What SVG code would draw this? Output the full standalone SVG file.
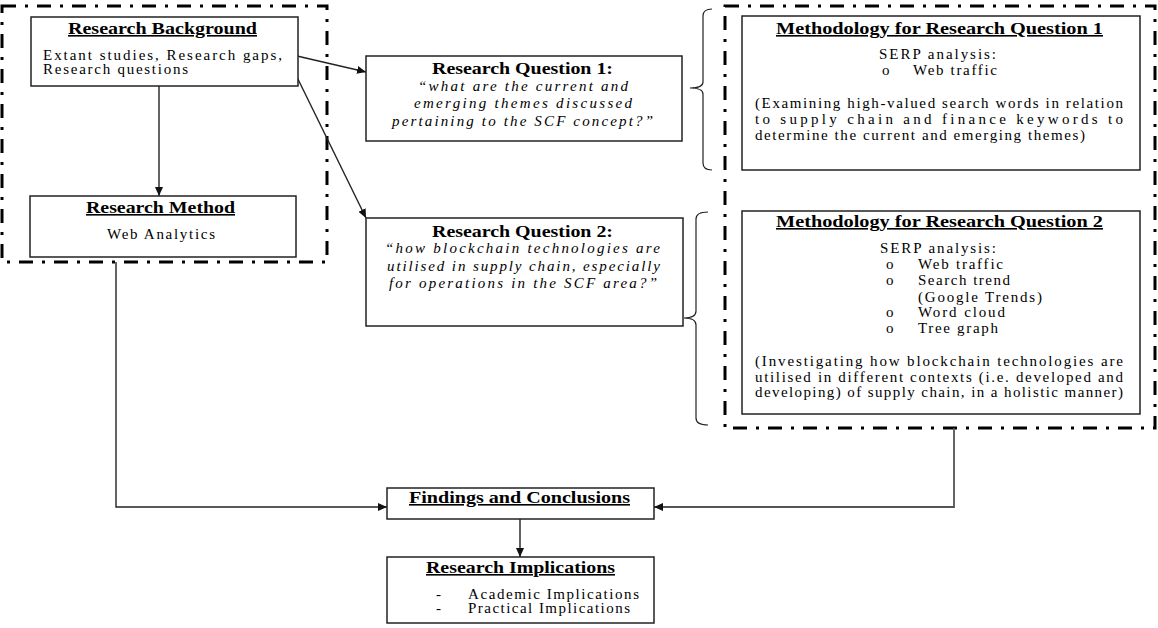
<svg xmlns="http://www.w3.org/2000/svg" width="1158" height="628" viewBox="0 0 1158 628">
<style>
.box{fill:#fff;stroke:#222;stroke-width:1.5}
.frame{fill:none;stroke:#000;stroke-width:3;stroke-dasharray:14 9 3 9}
.brace{fill:none;stroke:#222;stroke-width:1.2}
.conn{fill:none;stroke:#222;stroke-width:1.4}
.t{font-family:"Liberation Serif","Times New Roman",serif;font-size:15px;fill:#000}
.b{font-weight:bold;font-size:16px;text-decoration:underline}
.bn{font-weight:bold;font-size:16px}
.i{font-style:italic}
</style>
<defs>
<marker id="ah" markerUnits="userSpaceOnUse" markerWidth="9" markerHeight="8" refX="9" refY="4" orient="auto">
<path d="M0,0 L9,4 L0,8 z" fill="#111"/>
</marker>
</defs>
<rect width="1158" height="628" fill="#fff"/>

<g id="frames">
<rect class="frame" x="2" y="6" width="325" height="256"/>
<rect class="frame" x="725" y="6" width="430" height="422"/>
</g>

<g id="braces">
<path class="brace" d="M712,9 Q703,9 703,16 L703,82 Q703,88 690,88 Q703,88 703,94 L703,163 Q703,170 712,170"/>
<path class="brace" d="M708,212 Q696,212 696,219 L696,311 Q696,318 684,318 Q696,318 696,325 L696,418 Q696,425 708,425"/>
</g>

<g id="connectors">
<line class="conn" x1="159" y1="86" x2="159" y2="196" marker-end="url(#ah)"/>
<line class="conn" x1="297" y1="56" x2="366" y2="72" marker-end="url(#ah)"/>
<line class="conn" x1="295" y1="73" x2="366" y2="218" marker-end="url(#ah)"/>
<polyline class="conn" points="116,262 116,507 387,507" marker-end="url(#ah)"/>
<polyline class="conn" points="954,428 954,507 654,507" marker-end="url(#ah)" style="stroke:#555;stroke-width:1.8"/>
<line class="conn" x1="520" y1="519" x2="520" y2="557" marker-end="url(#ah)"/>
</g>

<g id="research-background">
<rect class="box" x="31" y="17" width="267" height="69"/>
<text class="t b" x="68" y="34" textLength="189" lengthAdjust="spacingAndGlyphs">Research Background</text>
<text class="t" x="43" y="60" textLength="239" lengthAdjust="spacing">Extant studies, Research gaps,</text>
<text class="t" x="43" y="74" textLength="145" lengthAdjust="spacing">Research questions</text>
</g>

<g id="research-method">
<rect class="box" x="30" y="196" width="266" height="61"/>
<text class="t b" x="86" y="213" textLength="149" lengthAdjust="spacingAndGlyphs">Research Method</text>
<text class="t" x="107" y="239" textLength="108" lengthAdjust="spacing">Web Analytics</text>
</g>

<g id="rq1">
<rect class="box" x="366" y="56" width="316" height="85"/>
<text class="t bn" x="432" y="74" textLength="181" lengthAdjust="spacingAndGlyphs">Research Question 1:</text>
<text class="t i" x="418" y="91" textLength="210" lengthAdjust="spacing">“what are the current and</text>
<text class="t i" x="414" y="108" textLength="218" lengthAdjust="spacing">emerging themes discussed</text>
<text class="t i" x="392" y="126" textLength="261" lengthAdjust="spacing">pertaining to the SCF concept?”</text>
</g>

<g id="rq2">
<rect class="box" x="366" y="218" width="317" height="108"/>
<text class="t bn" x="432" y="237" textLength="181" lengthAdjust="spacingAndGlyphs">Research Question 2:</text>
<text class="t i" x="385" y="253" textLength="275" lengthAdjust="spacing">“how blockchain technologies are</text>
<text class="t i" x="387" y="271" textLength="273" lengthAdjust="spacing">utilised in supply chain, especially</text>
<text class="t i" x="389" y="288" textLength="268" lengthAdjust="spacing">for operations in the SCF area?”</text>
</g>

<g id="mrq1">
<rect class="box" x="742" y="16" width="398" height="154"/>
<text class="t b" x="776" y="34" textLength="327" lengthAdjust="spacingAndGlyphs">Methodology for Research Question 1</text>
<text class="t" x="879" y="59" textLength="117" lengthAdjust="spacing">SERP analysis:</text>
<text class="t" x="882" y="75">o</text>
<text class="t" x="913" y="75" textLength="84" lengthAdjust="spacing">Web traffic</text>
<text class="t" x="755" y="108" textLength="368" lengthAdjust="spacing">(Examining high-valued search words in relation</text>
<text class="t" x="755" y="124" textLength="368" lengthAdjust="spacing">to supply chain and finance keywords to</text>
<text class="t" x="755" y="140" textLength="330" lengthAdjust="spacing">determine the current and emerging themes)</text>
</g>

<g id="mrq2">
<rect class="box" x="742" y="211" width="398" height="203"/>
<text class="t b" x="776" y="227" textLength="327" lengthAdjust="spacingAndGlyphs">Methodology for Research Question 2</text>
<text class="t" x="880" y="253" textLength="116" lengthAdjust="spacing">SERP analysis:</text>
<text class="t" x="886" y="269">o</text>
<text class="t" x="918" y="269" textLength="85" lengthAdjust="spacing">Web traffic</text>
<text class="t" x="886" y="285">o</text>
<text class="t" x="918" y="285" textLength="92" lengthAdjust="spacing">Search trend</text>
<text class="t" x="918" y="302" textLength="124" lengthAdjust="spacing">(Google Trends)</text>
<text class="t" x="886" y="317">o</text>
<text class="t" x="918" y="317" textLength="87" lengthAdjust="spacing">Word cloud</text>
<text class="t" x="886" y="333">o</text>
<text class="t" x="918" y="333" textLength="80" lengthAdjust="spacing">Tree graph</text>
<text class="t" x="755" y="366" textLength="368" lengthAdjust="spacing">(Investigating how blockchain technologies are</text>
<text class="t" x="755" y="382" textLength="368" lengthAdjust="spacing">utilised in different contexts (i.e. developed and</text>
<text class="t" x="755" y="397" textLength="368" lengthAdjust="spacing">developing) of supply chain, in a holistic manner)</text>
</g>

<g id="findings">
<rect class="box" x="387" y="488" width="267" height="31"/>
<text class="t b" x="409" y="503" textLength="221" lengthAdjust="spacingAndGlyphs">Findings and Conclusions</text>
</g>

<g id="implications">
<rect class="box" x="387" y="557" width="267" height="66"/>
<text class="t b" x="426" y="573" textLength="189" lengthAdjust="spacingAndGlyphs">Research Implications</text>
<text class="t" x="436" y="599">-</text>
<text class="t" x="468" y="599" textLength="171" lengthAdjust="spacing">Academic Implications</text>
<text class="t" x="436" y="613">-</text>
<text class="t" x="468" y="613" textLength="162" lengthAdjust="spacing">Practical Implications</text>
</g>
</svg>
